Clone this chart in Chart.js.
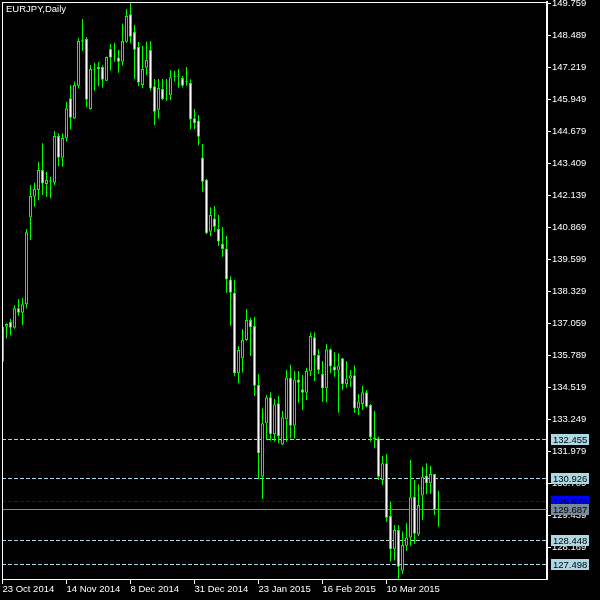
<!DOCTYPE html>
<html>
<head>
<meta charset="utf-8">
<script src="https://cdn.jsdelivr.net/npm/chart.js@4.4.1/dist/chart.umd.min.js"></script>
<style>
  html, body { margin: 0; padding: 0; background: #000; }
  #myChart { display: block; background: #000; }
</style>
</head>
<body>
<canvas id="myChart" width="600" height="600"></canvas>
<script>
// EURJPY daily candles, 23 Oct 2014 .. 20 Mar 2015
const opens = [
  135.52, 136.91, 137.10, 136.87, 137.64, 137.47, 137.80, 141.25, 142.07, 142.34,
  143.13, 142.58, 142.71, 142.63, 144.48, 143.62, 144.39, 145.98, 145.18, 146.48,
  148.28, 148.33, 145.55, 147.14, 147.22, 147.22, 146.67, 147.93, 147.61, 147.60,
  147.43, 148.22, 149.31, 148.61, 148.01, 146.50, 147.19, 147.89, 146.46, 145.52,
  146.35, 145.94, 146.10, 146.83, 146.84, 146.78, 146.62, 146.58, 145.19, 145.10,
  143.63, 142.74, 140.68, 141.21, 140.79, 140.19, 140.02, 138.79, 138.26, 135.06,
  135.66, 136.38, 137.18, 136.94, 134.60, 130.96, 133.08, 134.11, 132.64, 133.87,
  132.24, 133.24, 134.90, 132.98, 134.82, 134.43, 134.29, 135.13, 136.49, 135.79,
  135.04, 134.47, 136.02, 135.33, 135.17, 135.66, 134.63, 134.86, 134.99, 133.67,
  133.84, 134.31, 133.80, 132.51, 132.49, 130.83, 131.49, 129.40, 128.08, 128.84,
  127.23, 128.22, 128.55, 130.17, 128.67, 130.21, 131.01, 130.70, 131.07, 129.66
];
const highs = [
  136.95, 137.05, 137.22, 137.76, 138.01, 138.05, 140.79, 142.54, 142.63, 143.46,
  144.19, 143.05, 142.86, 144.68, 144.59, 144.59, 145.84, 146.50, 146.64, 148.36,
  149.12, 148.41, 147.30, 147.39, 147.42, 147.29, 147.64, 148.13, 148.18, 147.89,
  148.94, 149.52, 149.76, 148.89, 148.21, 148.05, 148.22, 148.25, 146.74, 146.74,
  146.74, 146.74, 147.10, 147.07, 147.14, 146.86, 147.22, 146.73, 145.55, 145.31,
  144.16, 142.78, 141.65, 141.70, 141.35, 140.86, 140.51, 138.90, 138.77, 136.15,
  136.82, 137.61, 137.27, 137.31, 135.04, 133.67, 134.20, 134.31, 134.04, 134.16,
  133.57, 135.19, 135.40, 135.15, 135.15, 135.00, 135.28, 136.68, 136.68, 136.03,
  135.55, 136.23, 136.06, 135.90, 135.86, 135.68, 135.55, 135.19, 135.37, 134.24,
  134.56, 134.40, 133.84, 133.57, 132.55, 131.78, 131.86, 129.97, 129.04, 129.04,
  128.78, 129.11, 131.62, 130.83, 130.66, 131.36, 131.49, 131.38, 131.07, 130.40
];
const lows = [
  135.45, 136.44, 136.56, 136.83, 137.35, 136.98, 137.63, 140.35, 141.67, 141.94,
  142.14, 142.07, 142.01, 142.54, 143.29, 143.26, 144.25, 144.75, 145.16, 146.37,
  147.85, 145.62, 145.52, 146.28, 146.47, 146.40, 146.66, 147.07, 147.43, 146.99,
  147.27, 148.18, 148.16, 146.74, 146.47, 146.39, 146.90, 146.28, 144.92, 145.17,
  145.90, 145.88, 145.91, 146.64, 146.40, 146.41, 146.48, 144.75, 144.75, 144.11,
  142.27, 140.58, 140.51, 140.68, 140.12, 139.69, 138.26, 136.95, 134.97, 134.67,
  135.09, 136.34, 135.75, 134.16, 130.87, 130.07, 132.42, 132.39, 132.35, 132.29,
  132.22, 132.35, 132.48, 132.48, 133.90, 133.61, 134.00, 134.96, 134.76, 135.04,
  133.93, 133.90, 135.06, 134.93, 133.50, 134.40, 134.49, 134.52, 133.50, 133.41,
  133.61, 133.71, 132.35, 132.09, 130.83, 130.63, 129.17, 127.59, 127.63, 126.90,
  127.10, 128.02, 128.22, 128.29, 128.60, 129.24, 130.26, 130.27, 129.44, 128.97
];
const closes = [
  136.91, 137.02, 136.87, 137.64, 137.47, 137.80, 140.66, 142.10, 142.38, 143.13,
  142.60, 142.74, 142.67, 144.48, 143.62, 144.40, 145.58, 145.21, 146.50, 148.25,
  148.22, 145.92, 147.14, 147.11, 147.13, 146.71, 147.62, 147.59, 147.60, 147.43,
  148.25, 149.24, 148.42, 147.90, 146.60, 147.14, 147.50, 146.37, 145.44, 146.39,
  145.94, 145.93, 146.81, 146.84, 146.83, 146.48, 146.61, 145.14, 144.99, 144.45,
  142.67, 140.62, 141.35, 140.88, 140.29, 140.00, 138.79, 138.26, 135.06, 135.99,
  136.38, 137.18, 136.89, 134.57, 131.89, 133.08, 134.11, 132.64, 133.83, 132.57,
  133.32, 134.90, 132.98, 134.82, 134.69, 134.29, 135.15, 136.54, 135.76, 135.19,
  134.47, 136.02, 135.33, 135.17, 135.37, 134.63, 134.86, 134.99, 133.67, 133.94,
  134.31, 133.74, 132.51, 132.46, 130.96, 131.49, 129.33, 128.08, 128.84, 127.39,
  128.25, 128.55, 130.14, 128.69, 129.84, 130.96, 130.70, 131.07, 129.64, 129.69
];

const dateTickIndex = [0, 16, 32, 48, 64, 80, 96];
const dateTickLabels = [
  "23 Oct 2014", "14 Nov 2014", "8 Dec 2014", "31 Dec 2014",
  "23 Jan 2015", "16 Feb 2015", "10 Mar 2015"
];
const priceTicks = [
  149.759, 148.489, 147.219, 145.949, 144.679, 143.409, 142.139, 140.869, 139.599,
  138.329, 137.059, 135.789, 134.519, 133.249, 131.979, 130.709, 129.439, 128.169
];
const levelPrices = [132.455, 130.926, 128.448, 127.498];
const alertPrice = 129.976;
const bidPrice = 129.687;

const FONT = { family: "'Liberation Sans', Arial, sans-serif", size: 9.5 };
const FONT_CSS = "9.5px 'Liberation Sans', Arial, sans-serif";
const GREEN = "#00ff00";

function priceBox(ctx, y, text, bg, fg) {
  const yy = Math.round(y);
  ctx.fillStyle = bg;
  ctx.fillRect(551, yy - 5, 38, 11);
  ctx.fillStyle = fg;
  ctx.font = FONT_CSS;
  ctx.textAlign = "left";
  ctx.textBaseline = "middle";
  ctx.fillText(text, 553, yy + 1);
}

function hLine(ctx, area, y, color, dash) {
  const yy = Math.round(y) + 0.5;
  ctx.save();
  ctx.strokeStyle = color;
  ctx.lineWidth = 1;
  ctx.setLineDash(dash);
  ctx.beginPath();
  ctx.moveTo(area.left, yy);
  ctx.lineTo(area.right, yy);
  ctx.stroke();
  ctx.restore();
}

const overlayPlugin = {
  id: "overlay",
  beforeDatasetsDraw(chart) {
    const { ctx, chartArea } = chart;
    const yScale = chart.scales.y;
    levelPrices.forEach((p) => {
      hLine(ctx, chartArea, yScale.getPixelForValue(p), "#add8e6", [4, 2]);
    });
    hLine(ctx, chartArea, yScale.getPixelForValue(alertPrice), "#0000ff", [4, 2]);
    hLine(ctx, chartArea, yScale.getPixelForValue(bidPrice), "#778899", []);
  },
  afterDraw(chart) {
    const { ctx, chartArea } = chart;
    const yScale = chart.scales.y;
    ctx.save();
    // frame on the left and top
    ctx.fillStyle = "#ffffff";
    ctx.fillRect(chartArea.left, chartArea.top, 1, chartArea.bottom - chartArea.top);
    ctx.fillRect(chartArea.left, chartArea.top, chartArea.right - chartArea.left, 1);

    ctx.font = FONT_CSS;
    ctx.textAlign = "left";
    ctx.textBaseline = "top";
    ctx.fillText("EURJPY,Daily", 6, 5);

    levelPrices.forEach((p) => {
      priceBox(ctx, yScale.getPixelForValue(p), p.toFixed(3), "#add8e6", "#000000");
    });
    priceBox(ctx, yScale.getPixelForValue(alertPrice), alertPrice.toFixed(3), "#0000ff", "#000000");
    priceBox(ctx, yScale.getPixelForValue(bidPrice), bidPrice.toFixed(3), "#778899", "#000000");
    ctx.restore();
  },
};

const bars = opens.map((_, i) => i);
const wickData = bars.map((i) => ({ x: i, y: [lows[i], highs[i]] }));
const bodyData = bars.map((i) => ({ x: i, y: [opens[i], closes[i]] }));
const bodyFill = bars.map((i) => (closes[i] >= opens[i] ? "#000000" : "#ffffff"));

const ctx = document.getElementById("myChart");

const myChart = new Chart(ctx, {
  type: "bar",
  data: {
    datasets: [
      {
        label: "body",
        data: bodyData,
        backgroundColor: bodyFill,
        borderColor: GREEN,
        borderWidth: 1,
        borderSkipped: false,
        barThickness: 3,
        minBarLength: 1,
        inflateAmount: 0,
        grouped: false,
        order: 0,
      },
      {
        label: "wick",
        data: wickData,
        backgroundColor: GREEN,
        borderWidth: 0,
        barThickness: 1,
        inflateAmount: 0,
        grouped: false,
        order: 1,
      },
    ],
  },
  options: {
    responsive: false,
    animation: false,
    devicePixelRatio: 1,
    layout: { padding: { left: 2, top: 2, right: 0, bottom: 0 } },
    plugins: {
      legend: { display: false },
      tooltip: { enabled: false },
    },
    scales: {
      x: {
        type: "linear",
        min: -0.125,
        max: 136.125,
        offset: false,
        afterBuildTicks: (scale) => {
          scale.ticks = dateTickIndex.map((v) => ({ value: v }));
        },
        afterFit: (scale) => {
          scale.height = 21;
          scale.paddingLeft = 0;
          scale.paddingRight = 0;
        },
        grid: { offset: false, drawOnChartArea: false, tickLength: 5, color: "#ffffff" },
        border: { display: true, color: "#ffffff", width: 1 },
        ticks: {
          color: "#ffffff",
          font: FONT,
          align: "start",
          padding: 0,
          maxRotation: 0,
          autoSkip: false,
          callback: (value, index) => dateTickLabels[index],
        },
      },
      y: {
        position: "right",
        min: 126.899,
        max: 149.799,
        afterBuildTicks: (scale) => {
          scale.ticks = priceTicks.map((v) => ({ value: v }));
        },
        afterFit: (scale) => {
          scale.width = 53;
          scale.paddingTop = 0;
          scale.paddingBottom = 0;
        },
        grid: { drawOnChartArea: false, tickLength: 4, color: "#ffffff" },
        border: { display: true, color: "#ffffff", width: 2 },
        ticks: {
          color: "#ffffff",
          font: FONT,
          padding: 1,
          autoSkip: false,
          callback: (value) => Number(value).toFixed(3),
        },
      },
    },
  },
  plugins: [overlayPlugin],
});
</script>
</body>
</html>
